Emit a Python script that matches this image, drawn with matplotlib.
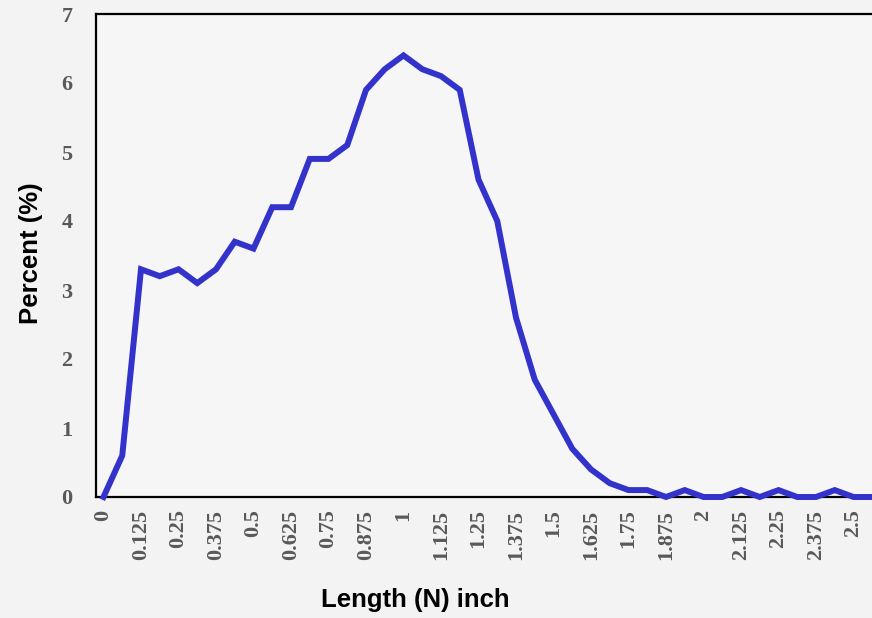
import matplotlib
matplotlib.use("Agg")
import matplotlib.pyplot as plt

lengths = ["0", "0.0625", "0.125", "0.1875", "0.25", "0.3125", "0.375", "0.4375",
           "0.5", "0.5625", "0.625", "0.6875", "0.75", "0.8125", "0.875", "0.9375",
           "1", "1.0625", "1.125", "1.1875", "1.25", "1.3125", "1.375", "1.4375",
           "1.5", "1.5625", "1.625", "1.6875", "1.75", "1.8125", "1.875", "1.9375",
           "2", "2.0625", "2.125", "2.1875", "2.25", "2.3125", "2.375", "2.4375",
           "2.5", "2.5625"]
percent = [0.0, 0.6, 3.3, 3.2, 3.3, 3.1, 3.3, 3.7,
           3.6, 4.2, 4.2, 4.9, 4.9, 5.1, 5.9, 6.2,
           6.4, 6.2, 6.1, 5.9, 4.6, 4.0, 2.6, 1.7,
           1.2, 0.7, 0.4, 0.2, 0.1, 0.1, 0.0, 0.1,
           0.0, 0.0, 0.1, 0.0, 0.1, 0.0, 0.0, 0.1,
           0.0, 0.0]
yticks = [0, 1, 2, 3, 4, 5, 6, 7]

W, H = 872, 618
fig = plt.figure(figsize=(W / 100, H / 100), dpi=100)
fig.patch.set_facecolor("#f3f3f3")
left, right, top, bottom = 96, 872, 14, 497
ax = fig.add_axes([left / W, 1 - bottom / H, (right - left) / W, (bottom - top) / H])
ax.set_facecolor("#f6f6f6")

x = list(range(len(lengths)))
ax.plot(x, percent, color="#3333cc", lw=4.3, solid_joinstyle="miter", clip_on=False, zorder=3)

step = 18.75
ax.set_xlim(-0.4, (right - left) / step - 0.4)
ax.set_ylim(0, 7)

ax.set_xticks(x[::2])
ax.set_xticklabels(lengths[::2], rotation=90, fontfamily="Liberation Serif",
                   fontweight="bold", fontsize=16, color="#595959")
ax.set_yticks(yticks)
ax.set_yticklabels([str(v) for v in yticks], fontfamily="Liberation Serif",
                   fontweight="bold", fontsize=16, color="#595959")
ax.tick_params(axis="x", length=0, pad=9)
ax.tick_params(axis="y", length=0, pad=17)

for s in ["left", "bottom", "top"]:
    ax.spines[s].set_linewidth(1.6)
    ax.spines[s].set_color("black")
ax.spines["right"].set_visible(False)

fig.text(31 / W, 1 - 253 / H, "Percent (%)", rotation=90, ha="center", va="center",
         fontfamily="Liberation Sans", fontweight="bold", fontsize=18.5, color="black")
fig.text(415 / W, 1 - 600 / H, "Length (N) inch", ha="center", va="center",
         fontfamily="Liberation Sans", fontweight="bold", fontsize=18.5, color="black")

fig.savefig("out.png", dpi=100, facecolor=fig.get_facecolor())
